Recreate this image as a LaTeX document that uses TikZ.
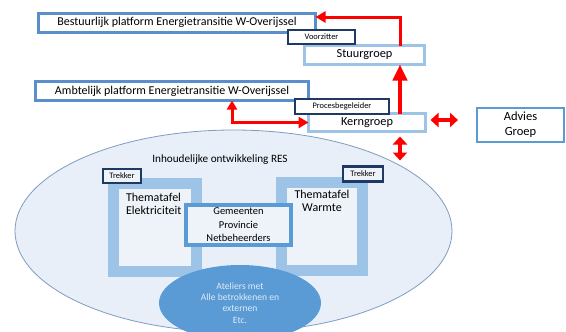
\documentclass[tikz,border=0pt]{standalone}
\usepackage{fontspec}
\setmainfont{Carlito}
\usetikzlibrary{arrows.meta,shapes.geometric}
\definecolor{platblue}{HTML}{5B8FCB}
\definecolor{lightblue}{HTML}{9DC3E6}
\definecolor{navy}{HTML}{1F3864}
\definecolor{midblue}{HTML}{5B9BD5}
\definecolor{ellfill}{HTML}{E9EFF8}
\definecolor{ellline}{HTML}{7E9CC2}
\definecolor{innerfill}{HTML}{EEF3FA}
\definecolor{ateltext}{HTML}{DEEAF6}
\begin{document}
\begin{tikzpicture}[x=1pt,y=-1pt,
  every node/.style={inner sep=0pt,outer sep=0pt},
  platform/.style={draw=platblue,line width=3pt,fill=white,font=\fontsize{12}{14}\selectfont},
  groepbox/.style={draw=lightblue,line width=3pt,fill=white,font=\fontsize{12.3}{14}\selectfont},
  rolbox/.style={draw=navy,line width=2.5pt,fill=white,font=\fontsize{8.4}{9}\selectfont},
  themabox/.style={draw=lightblue,line width=11pt,fill=innerfill},
  redline/.style={draw=red,line width=3pt},
]
\clip (0,0) rectangle (566,332);
\fill[white] (0,0) rectangle (566,332);

% top platforms
\node[platform,minimum width=277pt,minimum height=19pt] (bestuur) at (177,22.5) {Bestuurlijk platform Energietransitie W-Overijssel};
\node[platform,minimum width=273pt,minimum height=19pt] (ambt) at (172,91) {Ambtelijk platform Energietransitie W-Overijssel};

% groups
\node[groepbox,minimum width=120pt,minimum height=19pt] (stuur) at (364.5,55) {Stuurgroep};
\node[groepbox,minimum width=117pt,minimum height=18pt] (kern) at (367,122.5) {Kerngroep};
\node[draw=midblue,line width=2pt,fill=white,minimum width=87pt,minimum height=34pt,
      align=center,font=\fontsize{12.5}{15}\selectfont] (advies) at (520.5,125) {Advies\\Groep};

% role boxes
\node[rolbox,minimum width=67pt,minimum height=14pt] (voorz) at (321.5,37) {Voorzitter};
\node[rolbox,minimum width=94pt,minimum height=15pt] (proces) at (342,106.5) {Procesbegeleider};

% main ellipse
\node[ellipse,draw=ellline,line width=0.8pt,fill=ellfill,minimum width=437pt,minimum height=202pt] (res) at (233.5,231) {};
\node[font=\fontsize{11.2}{13}\selectfont] (restitle) at (220,160) {Inhoudelijke ontwikkeling RES};

% thematafels
\node[themabox,minimum width=83pt,minimum height=88pt] (themE) at (155,227.5) {};
\node[themabox,minimum width=81pt,minimum height=88pt] (themW) at (322,226.5) {};
\node[anchor=north west,align=left,font=\fontsize{12}{13.5}\selectfont] (themEtxt) at (126,193) {Thematafel\\Elektriciteit};
\node[anchor=north,align=center,font=\fontsize{12}{13.5}\selectfont] (themWtxt) at (322,190) {Thematafel\\Warmte};

% gemeenten box
\node[draw=midblue,line width=4pt,fill=innerfill,minimum width=105pt,minimum height=40pt,
      align=center,font=\fontsize{10.5}{13.5}\selectfont] (gem) at (238.5,225) {Gemeenten\\Provincie\\Netbeheerders};

% trekkers
\node[rolbox,fill=innerfill,minimum width=38pt,minimum height=14pt] (trekL) at (122,176) {Trekker};
\node[rolbox,fill=innerfill,minimum width=40pt,minimum height=15pt] (trekR) at (363,174) {Trekker};

% ateliers
\node[ellipse,fill=midblue,minimum width=162pt,minimum height=76pt,align=center,
      text=ateltext,font=\fontsize{9.6}{11.3}\selectfont] (atel) at (240,303) {Ateliers met\\Alle betrokkenen en\\externen\\Etc.};

% red arrows
\draw[redline,-{Triangle[length=10pt,width=11pt]}]
  ([xshift=35.5pt]stuur.north) |- ([yshift=5.5pt]bestuur.east);
\draw[redline,line width=4pt,-{Triangle[length=16pt,width=14pt]}]
  ([xshift=33pt]kern.north) -- ([xshift=35.5pt]stuur.south);
\draw[redline,{Triangle[length=9pt,width=10pt]}-{Triangle[length=10pt,width=11pt]}]
  ([xshift=60pt]ambt.south) |- (kern.west);
\draw[redline,line width=4.5pt,{Triangle[length=8pt,width=14pt]}-{Triangle[length=8pt,width=14pt]}]
  ([xshift=5pt,yshift=2.5pt]kern.east) -- ([xshift=-19pt,yshift=5pt]advies.west);
\draw[redline,line width=4.5pt,{Triangle[length=8pt,width=14pt]}-{Triangle[length=8pt,width=14pt]}]
  ([xshift=33pt,yshift=-5pt]kern.south) -- ([xshift=33pt,yshift=-29pt]kern.south);
\end{tikzpicture}
\end{document}
